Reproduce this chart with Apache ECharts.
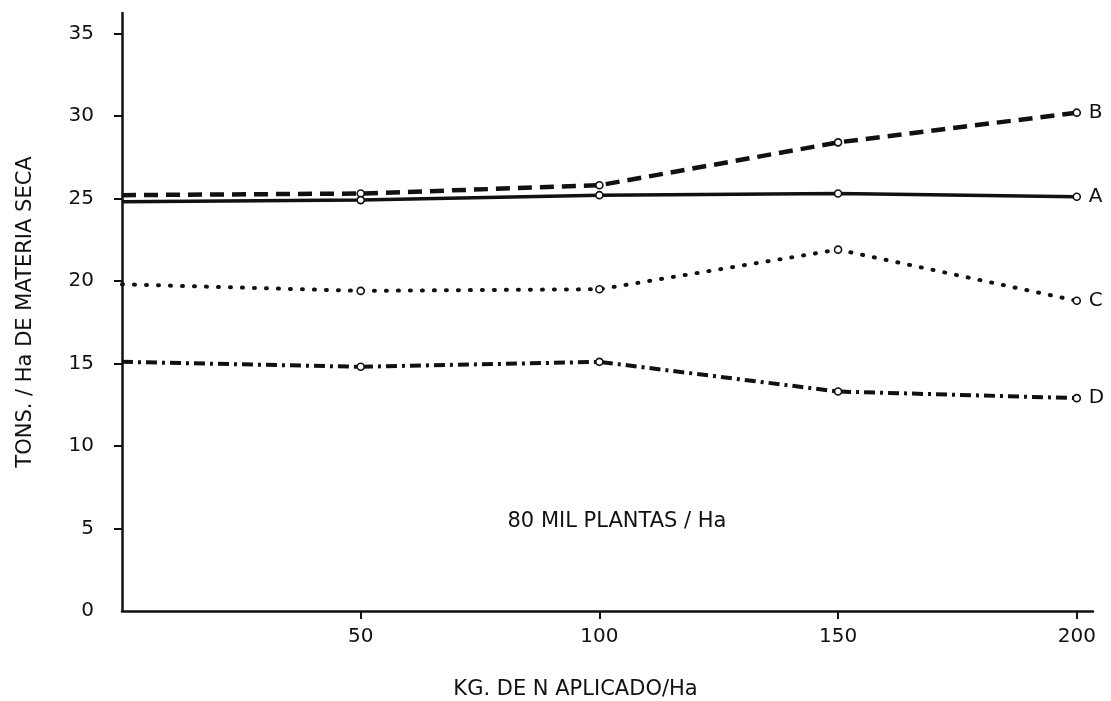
<!DOCTYPE html>
<html lang="es">
<head>
    <meta charset="UTF-8">
    <title>Materia seca - 80 mil plantas/Ha</title>
    <style type="text/css">
        *{
            margin: 0;
            padding: 0;
        }
        body{
            background: #fff;
        }
        #main{
            width: 1111px;
            height: 701px;
            position: absolute;
        }
    </style>
</head>
<body>
    <div id="main"></div>
    <script src="https://cdn.jsdelivr.net/npm/echarts@6/dist/echarts.min.js"></script>
    <script type="text/javascript">
        var myChart = echarts.init(document.getElementById('main'));

        // kg de N aplicado / Ha
        var nitrogen = [0, 50, 100, 150, 200];
        var xTicks = [50, 100, 150, 200];
        var yTicks = [0, 5, 10, 15, 20, 25, 30, 35];

        // tons / Ha de materia seca
        var valuesB = [25.2, 25.3, 25.8, 28.4, 30.2];
        var valuesA = [24.8, 24.9, 25.2, 25.3, 25.1];
        var valuesC = [19.8, 19.4, 19.5, 21.9, 18.8];
        var valuesD = [15.1, 14.8, 15.1, 13.3, 12.9];

        var ink = '#111';
        var font = 'DejaVu Sans';

        // el primer punto (eje) va sin marcador
        function toData(vals) {
            return vals.map(function (v, i) {
                if (i === 0) {
                    return {value: [nitrogen[i], v], symbol: 'none'};
                }
                return [nitrogen[i], v];
            });
        }

        function lineSeries(name, vals, lineStyle) {
            return {
                name: name,
                type: 'line',
                data: toData(vals),
                symbol: 'circle',
                symbolSize: 7,
                showAllSymbol: true,
                itemStyle: {
                    color: '#fff',
                    borderColor: ink,
                    borderWidth: 1.6
                },
                lineStyle: lineStyle,
                endLabel: {
                    show: true,
                    formatter: '{a}',
                    distance: 12,
                    color: ink,
                    fontSize: 20,
                    fontFamily: font
                },
                z: 3
            };
        }

        var option = {
            animation: false,
            backgroundColor: '#fff',
            grid: {
                left: 122,
                top: 13,
                width: 971,
                height: 598,
                containLabel: false,
                outerBoundsMode: 'none'
            },
            xAxis: {
                type: 'value',
                min: 0,
                max: 203.4,
                name: 'KG. DE N APLICADO/Ha',
                nameLocation: 'middle',
                nameGap: 68,
                nameTextStyle: {
                    color: ink,
                    fontSize: 21,
                    fontFamily: font,
                    padding: [0, 64, 0, 0]
                },
                axisLine: {
                    lineStyle: {color: ink, width: 2.5}
                },
                axisTick: {
                    customValues: xTicks,
                    length: 8,
                    lineStyle: {color: ink, width: 2}
                },
                axisLabel: {
                    customValues: xTicks,
                    margin: 16,
                    color: ink,
                    fontSize: 20,
                    fontFamily: font
                },
                splitLine: {show: false}
            },
            yAxis: {
                type: 'value',
                min: 0,
                max: 36.24,
                name: 'TONS. / Ha DE MATERIA SECA',
                nameLocation: 'middle',
                nameGap: 86,
                nameTextStyle: {
                    color: ink,
                    fontSize: 21,
                    fontFamily: font
                },
                axisLine: {
                    lineStyle: {color: ink, width: 2.5}
                },
                axisTick: {
                    customValues: yTicks.slice(1),
                    length: 8,
                    lineStyle: {color: ink, width: 2}
                },
                axisLabel: {
                    customValues: yTicks,
                    margin: 28,
                    color: ink,
                    fontSize: 20,
                    fontFamily: font
                },
                splitLine: {show: false}
            },
            graphic: [{
                type: 'text',
                x: 617,
                y: 522,
                style: {
                    text: '80 MIL PLANTAS / Ha',
                    fill: ink,
                    fontSize: 21,
                    fontFamily: font,
                    align: 'center',
                    verticalAlign: 'middle'
                }
            }],
            series: [
                lineSeries('B', valuesB, {color: ink, width: 4.5, type: [14, 8]}),
                lineSeries('A', valuesA, {color: ink, width: 3.5}),
                lineSeries('C', valuesC, {color: ink, width: 4, type: [1, 11], cap: 'round'}),
                lineSeries('D', valuesD, {color: ink, width: 4, type: [11, 5, 3, 5]})
            ]
        };

        myChart.setOption(option);
    </script>
</body>
</html>
